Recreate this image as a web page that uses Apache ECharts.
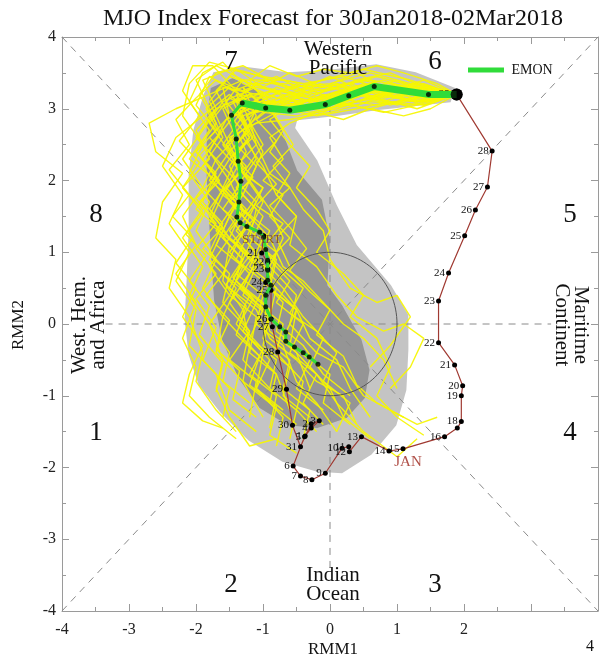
<!DOCTYPE html>
<html><head><meta charset="utf-8">
<script src="https://cdn.jsdelivr.net/npm/echarts@6/dist/echarts.min.js"></script>
<style>html,body{margin:0;padding:0;background:#fff}#c{width:601px;height:662px}</style>
</head><body><div id="c"></div>
<script>
// ---- tick labels ----
const xTickLabels = [-4, -3, -2, -1, 0, 1, 2];
const yTickLabels = [-4, -3, -2, -1, 0, 1, 2, 3, 4];
const phaseNames = ['1','2','3','4','5','6','7','8'];

// ---- observed trajectory (Dec 20 .. Jan 29) ----
const obsRmm1 = [-0.99,-1.02,-0.93,-0.93,-0.96,-0.88,-0.88,-0.86,-0.78,-0.65,-0.56,-0.44,
  -0.37,-0.28,-0.16,-0.28,-0.38,-0.55,-0.44,-0.27,-0.07,0.18,0.28,0.29,0.47,0.88,1.09,1.71,1.90,1.96,1.96,1.98,1.86,1.62,1.62,1.77,2.01,2.17,2.35,2.42,1.89];
const obsRmm2 = [1.23,0.99,0.86,0.77,0.58,0.47,0.07,-0.04,-0.39,-0.91,-1.41,-1.71,
  -1.56,-1.39,-1.35,-1.45,-1.57,-1.98,-2.12,-2.17,-2.08,-1.73,-1.71,-1.78,-1.57,-1.77,-1.74,-1.57,-1.45,-1.36,-1.00,-0.86,-0.57,-0.26,0.32,0.71,1.23,1.59,1.91,2.41,3.20];
const obsLabels = ['','21','22','23','24','25','26','27','28','29','30','31',
  '1','2','3','4','5','6','7','8','9','10','11','12','13','14','15','16','','18','19','20','21','22','23','24','25','26','27','28','29'];

// ---- ensemble mean forecast (EMON) ----
const meanRmm1 = [1.89,1.47,0.66,0.28,-0.07,-0.60,-0.96,-1.31,-1.47,-1.40,-1.37,-1.33,-1.36,-1.39,-1.34,-1.24,-1.05,-0.99,-0.96,-0.93,-0.93,-0.93,-0.88,-0.96,-0.96,-0.88,-0.75,-0.66,-0.66,-0.53,-0.40,-0.31,-0.18];
const meanRmm2 = [3.20,3.20,3.31,3.18,3.06,2.98,3.01,3.08,2.91,2.58,2.27,1.99,1.70,1.49,1.41,1.36,1.28,1.21,1.04,0.89,0.75,0.61,0.54,0.40,0.24,0.07,-0.04,-0.11,-0.24,-0.32,-0.40,-0.46,-0.56];
const meanThickCount = 8;

// ---- ensemble members ----
const ensemble = [
 [[1.89,3.2],[1.3,3.3],[0.7,3.45],[0.1,3.3],[-0.5,3.2],[-1.0,3.3],[-1.5,3.45],[-1.8,3.1],[-1.6,2.7],[-1.9,2.3],[-1.6,1.9],[-1.8,1.5],[-1.5,1.1],[-1.6,0.6],[-1.3,0.2],[-1.2,-0.3],[-0.8,-0.7],[-0.6,-1.2]],
 [[1.89,3.2],[1.3,3.1],[0.7,3.2],[0.1,3.0],[-0.5,2.9],[-1.0,2.95],[-1.3,2.7],[-1.1,2.3],[-1.4,1.9],[-1.1,1.6],[-1.2,1.2],[-0.8,0.9],[-0.9,0.5],[-0.5,0.2],[-0.3,-0.2],[0.1,-0.5],[0.3,-0.9],[0.6,-1.3]],
 [[1.89,3.2],[1.2,3.35],[0.6,3.5],[0.0,3.35],[-0.6,3.3],[-1.2,3.5],[-1.8,3.65],[-2.1,3.35],[-2.2,2.9],[-1.9,2.5],[-2.1,2.1],[-1.8,1.7],[-2.0,1.3],[-1.7,0.9],[-1.9,0.5],[-1.6,0.1],[-1.7,-0.4],[-1.3,-0.8],[-1.0,-1.3]],
 [[1.89,3.2],[1.4,3.15],[0.8,3.3],[0.3,3.15],[-0.3,3.05],[-0.9,3.1],[-1.4,3.0],[-1.2,2.6],[-1.5,2.2],[-1.3,1.8],[-1.5,1.5],[-1.2,1.1],[-1.4,0.7],[-1.0,0.4],[-1.1,0.0],[-0.7,-0.3],[-0.5,-0.8],[-0.2,-1.1],[0.1,-1.5]],
 [[1.89,3.2],[1.3,3.25],[0.8,3.4],[0.2,3.25],[-0.4,3.1],[-1.1,3.2],[-1.6,3.3],[-1.5,2.9],[-1.8,2.6],[-1.5,2.3],[-1.7,2.0],[-1.4,1.7],[-1.6,1.3],[-1.3,1.0],[-1.4,0.6],[-1.0,0.3],[-0.9,-0.1],[-0.5,-0.4],[-0.3,-0.9]],
 [[1.89,3.2],[1.2,3.05],[0.6,3.1],[0.0,2.95],[-0.6,2.85],[-1.1,2.8],[-1.5,2.6],[-1.3,2.2],[-1.6,1.8],[-1.2,1.5],[-1.4,1.1],[-1.1,0.8],[-1.3,0.4],[-0.9,0.1],[-1.0,-0.3],[-0.6,-0.6],[-0.7,-1.0],[-0.3,-1.3]],
 [[1.89,3.2],[1.4,3.3],[0.9,3.5],[0.4,3.4],[-0.2,3.2],[-0.8,3.35],[-1.3,3.6],[-1.7,3.5],[-1.95,3.2],[-1.7,2.8],[-2.0,2.4],[-1.7,2.1],[-1.9,1.7],[-1.6,1.4],[-1.8,1.0],[-1.5,0.7],[-1.6,0.3],[-1.2,-0.1],[-1.3,-0.5],[-0.9,-0.9]],
 [[1.89,3.2],[1.3,3.2],[0.7,3.25],[0.2,3.1],[-0.4,3.0],[-0.9,3.05],[-1.3,2.9],[-1.6,2.5],[-1.3,2.1],[-1.0,1.9],[-1.2,1.5],[-0.9,1.2],[-0.7,0.8],[-0.4,0.6],[-0.1,0.3],[0.2,0.0],[0.5,-0.2],[0.8,-0.5],[1.0,-0.9]],
 [[1.89,3.2],[1.2,3.4],[0.5,3.55],[-0.1,3.4],[-0.7,3.25],[-1.2,3.2],[-1.7,3.0],[-2.0,2.7],[-1.8,2.3],[-2.2,1.9],[-1.9,1.6],[-2.2,1.2],[-1.9,0.8],[-2.1,0.4],[-1.8,0.0],[-1.5,-0.4],[-1.6,-0.8],[-1.2,-1.1]],
 [[1.89,3.2],[1.5,3.1],[1.0,3.2],[0.5,3.3],[0.0,3.15],[-0.6,3.1],[-1.2,3.1],[-1.45,2.8],[-1.25,2.4],[-1.5,2.0],[-1.3,1.6],[-0.9,1.3],[-1.1,0.9],[-0.7,0.5],[-0.4,0.1],[-0.1,-0.2],[-0.3,-0.6],[0.0,-0.9],[0.2,-1.3],[0.6,-1.6]],
 [[1.89,3.2],[1.3,3.35],[0.7,3.3],[0.2,3.45],[-0.4,3.35],[-1.0,3.45],[-1.5,3.55],[-1.9,3.4],[-1.7,3.0],[-2.0,2.6],[-1.7,2.3],[-1.9,1.9],[-1.5,1.5],[-1.7,1.1],[-1.3,0.8],[-1.5,0.4],[-1.1,0.1],[-1.2,-0.4],[-0.8,-0.7],[-0.9,-1.1],[-0.5,-1.4]],
 [[1.89,3.2],[1.2,3.15],[0.6,3.0],[0.0,3.1],[-0.5,2.95],[-1.0,3.15],[-1.4,3.2],[-1.2,2.85],[-1.1,2.5],[-1.4,2.2],[-1.0,1.9],[-1.3,1.5],[-1.0,1.2],[-1.2,0.8],[-0.8,0.5],[-0.9,0.1],[-0.4,-0.3],[-0.1,-0.7],[0.3,-1.0]],
 [[1.89,3.2],[1.4,3.2],[0.9,3.35],[0.3,3.3],[-0.2,3.15],[-0.7,3.0],[-1.2,2.95],[-1.5,3.2],[-1.9,2.9],[-2.3,2.6],[-2.5,2.2],[-2.2,1.8],[-2.4,1.4],[-2.1,1.0],[-2.3,0.6],[-2.0,0.2],[-2.1,-0.3],[-1.7,-0.7],[-1.5,-1.2],[-1.1,-1.5]],
 [[1.89,3.2],[1.3,3.0],[0.7,3.15],[0.1,3.05],[-0.5,3.15],[-1.0,3.05],[-1.3,3.3],[-1.1,2.9],[-1.4,2.5],[-1.1,2.2],[-1.3,1.8],[-1.0,1.5],[-1.2,1.1],[-0.9,0.7],[-1.1,0.3],[-0.7,0.0],[-0.8,-0.4],[-0.4,-0.8],[-0.5,-1.2],[-0.2,-1.5]],
 [[1.89,3.2],[1.2,3.25],[0.6,3.35],[0.0,3.2],[-0.6,3.05],[-1.1,2.95],[-1.5,3.15],[-1.8,2.8],[-1.5,2.4],[-1.8,2.0],[-1.4,1.7],[-1.7,1.3],[-1.3,0.9],[-1.5,0.5],[-1.1,0.2],[-0.9,-0.2],[-0.5,-0.5],[-0.2,-0.8],[0.2,-1.0],[0.4,-1.4]],
 [[1.89,3.2],[1.4,3.35],[0.8,3.2],[0.3,3.35],[-0.3,3.3],[-0.8,3.15],[-1.3,3.35],[-1.6,3.65],[-1.9,3.5],[-2.1,3.1],[-1.8,2.7],[-2.1,2.3],[-1.7,2.0],[-2.0,1.6],[-1.6,1.3],[-1.8,0.9],[-1.4,0.5],[-1.6,0.1],[-1.2,-0.3],[-1.3,-0.8],[-0.9,-1.1]],
 [[1.89,3.2],[1.3,3.15],[0.7,3.05],[0.1,3.15],[-0.5,3.0],[-1.1,3.0],[-1.3,2.6],[-1.0,2.2],[-0.8,1.8],[-0.5,1.5],[-0.6,1.1],[-0.2,0.8],[0.1,0.4],[0.4,0.1],[0.8,-0.1],[1.1,0.0],[1.4,-0.2],[1.2,-0.6],[0.9,-0.9]],
 [[1.89,3.2],[1.4,3.05],[0.9,3.1],[0.4,3.0],[-0.2,2.9],[-0.7,3.0],[-1.2,2.75],[-1.0,2.4],[-1.2,2.0],[-0.9,1.6],[-0.7,1.2],[-0.9,0.8],[-0.5,0.4],[-0.6,0.0],[-0.2,-0.4],[0.2,-0.6],[0.5,-1.0],[0.9,-1.2],[1.3,-1.4],[1.6,-1.3]],
 [[1.89,3.2],[1.2,3.3],[0.6,3.4],[-0.1,3.3],[-0.7,3.4],[-1.3,3.4],[-1.8,3.2],[-2.3,3.0],[-2.7,2.8],[-2.6,2.4],[-2.2,2.1],[-2.5,1.7],[-2.6,1.2],[-2.3,0.9],[-2.4,0.5],[-2.1,0.1],[-1.9,-0.4],[-2.0,-0.8],[-1.7,-1.2],[-1.4,-1.5]],
 [[1.89,3.2],[1.3,3.2],[0.7,3.35],[0.1,3.2],[-0.4,3.05],[-0.9,3.1],[-1.35,3.0],[-1.6,2.7],[-1.4,2.3],[-1.6,1.9],[-1.3,1.6],[-1.5,1.2],[-1.1,0.9],[-1.3,0.5],[-0.9,0.2],[-1.0,-0.2],[-0.6,-0.5],[-0.7,-0.9],[-0.3,-1.2],[-0.4,-1.6]],
 [[1.89,3.2],[1.3,3.3],[0.7,3.2],[0.1,3.35],[-0.5,3.2],[-1.1,3.3],[-1.6,3.1],[-1.9,2.7],[-2.2,2.3],[-1.9,1.9],[-2.2,1.5],[-2.0,1.1],[-2.3,0.7],[-2.0,0.3],[-2.2,-0.2],[-2.0,-0.6],[-2.1,-1.0],[-1.8,-1.3],[-1.4,-1.6]],
 [[1.89,3.2],[1.4,3.25],[0.8,3.15],[0.2,3.25],[-0.3,3.1],[-0.9,3.25],[-1.4,3.1],[-1.2,2.7],[-1.5,2.4],[-1.3,2.0],[-1.6,1.6],[-1.2,1.3],[-1.4,0.9],[-1.0,0.6],[-0.7,0.3],[-0.8,-0.1],[-0.4,-0.4],[0.0,-0.7],[-0.1,-1.1],[0.3,-1.4]],
 [[1.89,3.2],[1.3,3.1],[0.7,3.25],[0.1,3.1],[-0.4,3.2],[-1.0,3.05],[-1.3,2.8],[-1.1,2.5],[-0.9,2.1],[-0.6,1.9],[-0.4,1.6],[-0.1,1.3],[0.0,0.9],[0.3,0.5],[0.7,0.3],[1.0,0.4],[1.2,0.1],[0.9,-0.3],[0.6,-0.6]],
 [[1.89,3.2],[1.2,3.2],[0.5,3.4],[-0.1,3.25],[-0.6,3.35],[-1.2,3.35],[-1.7,3.6],[-2.0,3.4],[-1.8,3.0],[-1.6,2.6],[-1.9,2.2],[-1.6,1.8],[-1.8,1.4],[-1.4,1.1],[-1.6,0.7],[-1.2,0.4],[-1.4,0.0],[-1.0,-0.4],[-1.1,-0.9],[-0.7,-1.3],[-0.8,-1.7]],
 [[1.89,3.2],[1.4,3.1],[0.8,3.2],[0.2,3.05],[-0.3,2.95],[-0.8,3.1],[-1.25,2.9],[-1.0,2.5],[-1.3,2.1],[-1.0,1.7],[-1.2,1.3],[-0.8,1.0],[-0.9,0.6],[-0.5,0.2],[-0.6,-0.3],[-0.2,-0.7],[0.1,-1.1],[0.5,-1.5],[1.0,-1.85],[1.3,-1.6]],
 [[1.89,3.2],[1.2,3.1],[0.6,3.25],[0.0,3.1],[-0.6,3.2],[-1.2,3.0],[-1.55,2.85],[-1.8,2.4],[-1.5,2.0],[-1.8,1.6],[-1.5,1.2],[-1.8,0.8],[-1.5,0.4],[-1.8,0.0],[-1.6,-0.5],[-1.7,-0.9],[-1.5,-1.3],[-1.2,-1.7],[-0.8,-1.6]],
 [[1.89,3.2],[1.6,3.35],[1.1,3.5],[0.7,3.6],[0.3,3.5],[-0.1,3.55],[-0.5,3.45],[-0.9,3.6],[-1.2,3.4],[-0.9,3.0],[-0.7,2.7],[-0.9,2.4],[-0.6,2.1],[-0.8,1.8],[-0.5,1.5],[-0.8,1.2],[-0.6,0.8],[-0.9,0.5],[-0.5,0.2],[-0.7,-0.2],[-0.3,-0.5],[-0.5,-0.9],[-0.1,-1.2]],
 [[1.89,3.2],[1.5,3.0],[1.1,2.9],[0.6,3.0],[0.2,2.85],[-0.2,2.95],[-0.6,2.8],[-0.9,2.6],[-0.7,2.3],[-1.0,2.0],[-0.7,1.8],[-0.9,1.5],[-0.6,1.2],[-0.9,0.9],[-0.6,0.6],[-0.8,0.3],[-0.4,0.0],[-0.6,-0.4],[-0.2,-0.7],[-0.4,-1.1],[-0.1,-1.4]],
 [[1.89,3.2],[1.5,3.25],[1.0,3.05],[0.5,3.2],[0.0,3.0],[-0.4,3.2],[-0.9,2.95],[-1.2,3.2],[-1.6,3.0],[-1.4,2.6],[-1.7,2.3],[-1.4,2.0],[-1.1,1.7],[-1.4,1.3],[-1.1,1.0],[-1.4,0.6],[-1.1,0.3],[-1.3,-0.1],[-0.9,-0.5],[-1.1,-0.9],[-0.7,-1.2]],
 [[1.89,3.2],[1.4,3.4],[0.9,3.25],[0.4,3.5],[-0.1,3.3],[-0.6,3.5],[-1.0,3.3],[-1.4,3.55],[-1.7,3.25],[-1.5,2.9],[-1.2,2.6],[-1.5,2.3],[-1.2,2.0],[-1.5,1.7],[-1.2,1.4],[-1.5,1.0],[-1.2,0.7],[-1.5,0.3],[-1.2,-0.1],[-1.5,-0.5],[-1.1,-0.8],[-1.2,-1.3]],
 [[1.89,3.2],[1.3,3.05],[0.8,2.95],[0.3,3.05],[-0.2,3.0],[-0.7,3.15],[-1.1,2.85],[-0.8,2.55],[-1.1,2.25],[-0.8,1.95],[-1.1,1.65],[-0.7,1.4],[-1.0,1.05],[-0.7,0.75],[-0.4,0.5],[-0.6,0.15],[-0.2,-0.1],[0.1,-0.4],[-0.1,-0.8],[0.3,-1.1],[0.1,-1.5]],
 [[1.89,3.2],[1.5,3.2],[1.0,3.4],[0.5,3.25],[0.0,3.45],[-0.5,3.25],[-1.0,3.4],[-1.45,3.25],[-1.8,3.45],[-2.0,3.05],[-1.7,2.7],[-2.0,2.4],[-1.7,2.05],[-2.0,1.75],[-1.7,1.4],[-2.0,1.05],[-1.7,0.7],[-2.0,0.35],[-1.7,-0.05],[-1.9,-0.5],[-1.5,-0.9],[-1.6,-1.3]],
 [[1.89,3.2],[1.4,3.15],[0.9,3.25],[0.4,3.1],[-0.1,3.2],[-0.6,3.0],[-1.0,3.2],[-1.35,2.95],[-1.15,2.6],[-1.45,2.35],[-1.15,2.05],[-1.45,1.75],[-1.15,1.45],[-1.45,1.15],[-1.1,0.85],[-1.35,0.5],[-1.0,0.2],[-1.2,-0.2],[-0.8,-0.5],[-0.9,-0.9],[-0.5,-1.2],[-0.6,-1.6]],
 [[1.89,3.2],[1.45,3.3],[1.0,3.15],[0.5,3.35],[0.0,3.15],[-0.5,3.35],[-0.95,3.15],[-1.3,3.4],[-1.55,3.1],[-1.3,2.8],[-1.55,2.5],[-1.25,2.2],[-1.55,1.9],[-1.25,1.6],[-1.5,1.3],[-1.2,0.95],[-1.45,0.65],[-1.15,0.35],[-1.35,0.0],[-1.0,-0.35],[-1.2,-0.7],[-0.8,-1.0],[-0.9,-1.45]],
 [[1.89,3.2],[1.3,3.25],[0.8,3.1],[0.3,3.25],[-0.2,3.05],[-0.7,3.25],[-1.15,3.05],[-1.5,3.3],[-1.85,3.0],[-1.65,2.65],[-1.95,2.35],[-1.65,2.0],[-1.95,1.7],[-1.6,1.35],[-1.9,1.05],[-1.55,0.75],[-1.85,0.4],[-1.5,0.05],[-1.7,-0.35],[-1.35,-0.65],[-1.45,-1.05],[-1.1,-1.3]],
 [[1.89,3.2],[1.4,3.05],[0.9,3.2],[0.4,3.05],[-0.1,3.1],[-0.55,2.95],[-0.95,3.1],[-0.75,2.8],[-0.55,2.5],[-0.85,2.2],[-0.6,1.9],[-0.9,1.65],[-0.6,1.35],[-0.35,1.05],[-0.6,0.75],[-0.3,0.45],[0.0,0.2],[-0.2,-0.15],[0.2,-0.45],[0.4,-0.85],[0.7,-1.1],[1.1,-1.3]],
 [[1.89,3.2],[1.3,3.35],[0.7,3.15],[0.2,3.3],[-0.3,3.2],[-0.8,3.45],[-1.3,3.25],[-1.7,3.4],[-2.0,3.15],[-2.3,2.85],[-2.1,2.5],[-2.4,2.15],[-2.1,1.8],[-2.35,1.5],[-2.05,1.2],[-2.3,0.85],[-2.0,0.5],[-2.2,0.1],[-1.9,-0.3],[-2.1,-0.7],[-2.2,-1.1],[-1.9,-1.35],[-1.6,-1.45]],
 [[1.89,3.2],[1.4,3.2],[0.9,3.05],[0.4,3.2],[-0.1,2.95],[-0.5,3.1],[-0.9,2.85],[-0.6,2.5],[-0.3,2.2],[-0.5,1.9],[-0.2,1.6],[0.0,1.3],[-0.2,1.0],[0.2,0.7],[0.5,0.4],[0.3,0.1],[0.7,-0.2],[0.9,-0.6],[0.7,-1.0],[1.0,-1.3],[1.4,-1.55]],
 [[1.89,3.2],[1.5,3.3],[1.0,3.3],[0.6,3.15],[0.1,3.35],[-0.3,3.15],[-0.8,3.3],[-1.2,3.05],[-1.5,3.35],[-1.75,3.6],[-2.05,3.6],[-2.2,3.25],[-1.95,2.9],[-2.25,2.55],[-1.95,2.25],[-2.2,1.9],[-1.9,1.55],[-2.15,1.25],[-1.85,0.95],[-2.1,0.6],[-1.8,0.25],[-1.95,-0.15],[-1.6,-0.55],[-1.7,-0.95]],
 [[1.89,3.2],[1.35,3.1],[0.85,3.3],[0.35,3.2],[-0.15,3.35],[-0.65,3.15],[-1.1,3.35],[-1.45,3.1],[-1.25,2.75],[-1.55,2.5],[-1.3,2.15],[-1.6,1.85],[-1.35,1.55],[-1.6,1.2],[-1.3,0.9],[-1.55,0.55],[-1.25,0.25],[-1.4,-0.15],[-1.05,-0.45],[-1.2,-0.85],[-0.8,-1.15],[-0.9,-1.55],[-0.5,-1.8]]
];

// ---- spread shading polygons (RMM1, RMM2) ----
const spreadOuter = [[-1.74,3.51],[-1.30,3.59],[-0.63,3.51],[-0.04,3.54],[0.69,3.62],[1.28,3.51],[1.87,3.29],[1.80,3.09],[1.28,3.04],[0.69,2.98],[0.10,2.90],[-0.49,2.84],[-0.52,2.73],[-0.19,2.28],[0.10,1.66],[0.40,1.10],[0.91,0.54],[1.17,0.13],[1.17,-0.36],[1.14,-0.92],[0.99,-1.41],[0.62,-1.82],[0.18,-2.08],[-0.19,-2.06],[-0.71,-1.92],[-1.22,-1.62],[-1.64,-1.23],[-1.96,-0.85],[-2.11,-0.43],[-2.17,0.06],[-2.14,0.61],[-2.11,1.31],[-2.11,2.08],[-2.04,2.70],[-1.89,3.19]];
const spreadInner = [[-1.78,3.29],[-1.45,3.43],[-1.05,3.23],[-0.75,2.77],[-0.49,2.14],[-0.12,1.73],[0.0,1.17],[-0.04,0.54],[0.18,0.26],[0.47,-0.22],[0.59,-0.64],[0.52,-1.03],[0.25,-1.31],[-0.19,-1.45],[-0.63,-1.41],[-1.05,-1.17],[-1.37,-0.75],[-1.61,-0.22],[-1.73,0.33],[-1.78,1.03],[-1.84,2.01],[-1.84,2.84]];

const circleRadius = 1;

// ---- build ----
const SERIF = '"Liberation Serif","DejaVu Serif",serif';
const chart = echarts.init(document.getElementById('c'), null, {renderer: 'canvas'});

function polySeries(points, color, z) {
  return {
    type: 'custom', data: points, z: z, silent: true, animation: false,
    renderItem: function (params, api) {
      if (params.dataIndex !== 0) return null;
      return {type: 'polygon', shape: {points: points.map(p => api.coord(p))}, style: {fill: color}};
    }
  };
}
function dashSeries(a, b) {
  return {type: 'line', data: [a, b], symbol: 'none', silent: true, animation: false, z: 2,
    lineStyle: {color: '#8a8a8a', width: 1, type: [7, 6]}};
}

const series = [];
series.push(polySeries(spreadOuter, '#c4c4c4', 1));
series.push(polySeries(spreadInner, '#959595', 1));
series.push(dashSeries([-4, -4], [4, 4]));
series.push(dashSeries([-4, 4], [4, -4]));
series.push(dashSeries([-3.35, 0], [3.3, 0]));
series.push(dashSeries([0, -3.4], [0, 3.3]));

ensemble.forEach(m => {
  series.push({type: 'line', data: m, symbol: 'none', silent: true, animation: false, z: 3,
    lineStyle: {color: 'rgba(246,246,0,0.92)', width: 1.4}});
});

series.push({
  type: 'custom', data: [[0, 0]], z: 4, silent: true, animation: false,
  renderItem: function (params, api) {
    const pts = [];
    for (let i = 0; i <= 120; i++) {
      const a = i / 120 * 2 * Math.PI;
      pts.push(api.coord([circleRadius * Math.cos(a), circleRadius * Math.sin(a)]));
    }
    return {type: 'polyline', shape: {points: pts}, style: {stroke: '#555', lineWidth: 1, fill: null}};
  }
});

// observed
const obsData = obsRmm1.map((x, i) => ({
  value: [x, obsRmm2[i]],
  symbolSize: i === obsRmm1.length - 1 ? 12 : 5,
  label: {show: obsLabels[i] !== '', formatter: obsLabels[i]}
}));
series.push({
  type: 'line', data: obsData, z: 5, animation: false, silent: true,
  symbol: 'circle',
  lineStyle: {color: '#a03a32', width: 1.2},
  itemStyle: {color: '#000'},
  label: {position: 'left', distance: 1, fontFamily: SERIF, fontSize: 11, color: '#111'}
});

// ensemble mean
const meanPts = meanRmm1.map((x, i) => [x, meanRmm2[i]]);
series.push({type: 'line', data: meanPts.slice(0, meanThickCount), symbol: 'none', z: 6, animation: false, silent: true,
  lineStyle: {color: '#30dc3a', width: 7}});
series.push({type: 'line', data: meanPts.slice(meanThickCount - 1), symbol: 'none', z: 6, animation: false, silent: true,
  lineStyle: {color: '#30dc3a', width: 3}});
series.push({type: 'scatter', data: meanPts.slice(1), symbol: 'circle', symbolSize: 5, z: 7, animation: false, silent: true,
  itemStyle: {color: '#000'}});
series.push({type: 'scatter', data: [[obsRmm1[obsRmm1.length - 1], obsRmm2[obsRmm2.length - 1]]], symbolSize: 12, z: 8, silent: true, animation: false,
  itemStyle: {color: '#000'}});
series.push({type: 'scatter', data: [[obsRmm1[0], obsRmm2[0]]], symbolSize: 0, z: 8, silent: true, animation: false,
  label: {show: true, formatter: 'START', position: 'inside', offset: [-2, 4], fontFamily: SERIF, fontSize: 13, color: '#7a3a28'}});

const axisCommon = {
  type: 'value', min: -4, max: 4, interval: 1,
  axisLine: {show: true, onZero: false, lineStyle: {color: '#9a9a9a', width: 1}},
  axisTick: {show: true, inside: true, length: 7, lineStyle: {color: '#9a9a9a'}},
  minorTick: {show: true, splitNumber: 2, length: 4, lineStyle: {color: '#9a9a9a'}},
  splitLine: {show: false}
};

function txt(text, x, y, size, extra, color) {
  return Object.assign({type: 'text', x: x, y: y, z: 100, silent: true,
    style: {text: text, font: size + 'px ' + SERIF, fill: color || '#111', textAlign: 'center', textVerticalAlign: 'middle', lineHeight: Math.round(size * 0.9)}}, extra || {});
}

const option = {
  animation: false,
  backgroundColor: '#fff',
  grid: {left: 62, top: 37, width: 542, height: 574},
  xAxis: [
    Object.assign({}, axisCommon, {position: 'bottom',
      axisLabel: {margin: 11, fontFamily: SERIF, fontSize: 16, color: '#222',
        formatter: v => xTickLabels.indexOf(v) >= 0 ? String(v) : ''}}),
    Object.assign({}, axisCommon, {position: 'top', axisLabel: {show: false}})
  ],
  yAxis: [
    Object.assign({}, axisCommon, {position: 'left',
      axisLabel: {margin: 6, fontFamily: SERIF, fontSize: 16, color: '#222',
        formatter: v => yTickLabels.indexOf(v) >= 0 ? String(v) : ''}}),
    Object.assign({}, axisCommon, {position: 'right', axisLabel: {show: false}})
  ],
  graphic: [
    txt('MJO Index Forecast for 30Jan2018-02Mar2018', 333, 19, 24),
    txt('RMM1', 333, 650, 17),
    txt('4', 590, 647, 16),
    txt('RMM2', 19, 325, 17, {rotation: Math.PI / 2}),
    txt(phaseNames[6], 231, 62, 27),
    txt(phaseNames[5], 435, 62, 27),
    txt(phaseNames[7], 96, 215, 27),
    txt(phaseNames[4], 570, 215, 27),
    txt(phaseNames[0], 96, 433, 27),
    txt(phaseNames[3], 570, 433, 27),
    txt(phaseNames[1], 231, 585, 27),
    txt(phaseNames[2], 435, 585, 27),
    txt('Western\nPacific', 338, 59, 21),
    txt('Indian\nOcean', 333, 585, 21),
    txt('West. Hem.\nand Africa', 89, 325, 21, {rotation: Math.PI / 2}),
    txt('Maritime\nContinent', 571, 325, 21, {rotation: -Math.PI / 2}),
    {type: 'line', z: 100, silent: true, shape: {x1: 468, y1: 70, x2: 504, y2: 70}, style: {stroke: '#30dc3a', lineWidth: 5}},
    txt('EMON', 532, 70, 14),
    txt('JAN', 408, 462, 15, null, '#b05048')
  ],
  series: series
};
chart.setOption(option);
</script>
</body></html>
